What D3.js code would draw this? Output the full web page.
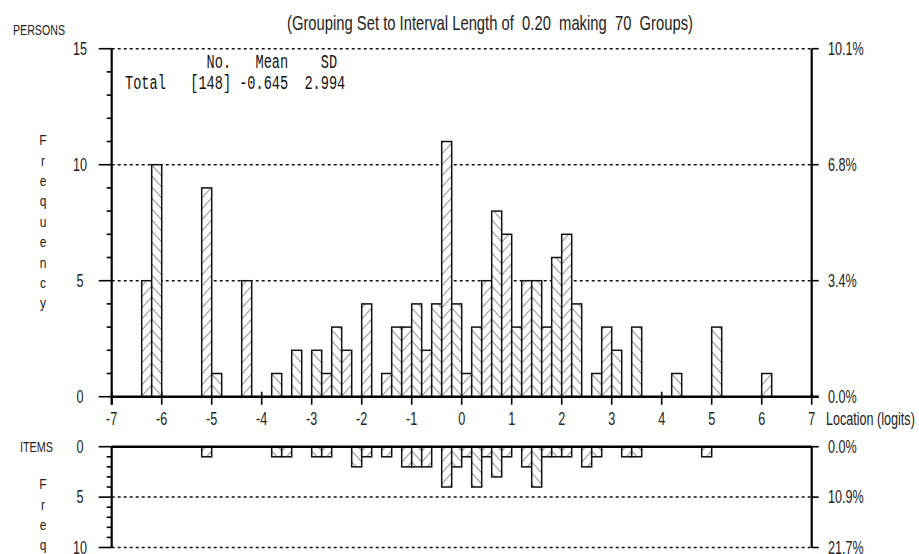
<!DOCTYPE html>
<html>
<head>
<meta charset="utf-8">
<script src="https://cdnjs.cloudflare.com/ajax/libs/d3/7.8.5/d3.min.js"></script>
<style>
  body { margin: 0; background: #fff; }
  svg text { font-family: "Liberation Sans", Arial, sans-serif; fill: #222; white-space: pre; }
  svg text.mono { font-family: "Liberation Mono", "DejaVu Sans Mono", monospace; fill: #111; }
</style>
</head>
<body>
<div id="chart"></div>
<script>
// Data ----------------------------------------------------------------------->

// Person histogram: lower edge of each 0.20-logit group and its count
const personBins = [-6.4, -6.2, -5.2, -5.0, -4.4, -3.8, -3.4, -3.0, -2.8, -2.6,
                    -2.4, -2.0, -1.6, -1.4, -1.2, -1.0, -0.8, -0.6, -0.4, -0.2,
                     0.0,  0.2,  0.4,  0.6,  0.8,  1.0,  1.2,  1.4,  1.6,  1.8,
                     2.0,  2.2,  2.6,  2.8,  3.0,  3.4,  4.2,  5.0,  6.0];
const personCounts = [5, 10, 9, 1, 5, 1, 2, 2, 1, 3,
                      2, 4, 1, 3, 3, 4, 2, 4, 11, 4,
                      1, 3, 5, 8, 7, 3, 5, 5, 3, 6,
                      7, 4, 1, 3, 2, 3, 1, 3, 1];

// Item histogram (drawn hanging below the axis)
const itemBins = [-5.2, -3.8, -3.6, -3.0, -2.8, -2.2, -2.0, -1.6, -1.2, -1.0,
                  -0.8, -0.4, -0.2,  0.0,  0.2,  0.4,  0.6,  0.8,  1.2,  1.4,
                   1.6,  1.8,  2.0,  2.4,  2.6,  3.2,  3.4,  4.8];
const itemCounts = [1, 1, 1, 1, 1, 2, 1, 1, 2, 2,
                    2, 4, 2, 1, 4, 1, 3, 1, 2, 4,
                    1, 1, 1, 2, 1, 1, 1, 1];

const xTicks = [-7, -6, -5, -4, -3, -2, -1, 0, 1, 2, 3, 4, 5, 6, 7];
const personTicks = [0, 5, 10, 15];
const personPct = ['0.0%', '3.4%', '6.8%', '10.1%'];
const itemTicks = [0, 5, 10];
const itemPct = ['0.0%', '10.9%', '21.7%'];
const binWidth = 0.2;

const titleText = '(Grouping Set to Interval Length of  0.20  making  70  Groups)';
const statsHead = '          No.   Mean    SD';
const statsRow = 'Total   [148] -0.645  2.994';

// Setup ---------------------------------------------------------------------->

const width = 919, height = 554;
const svg = d3.select('#chart')
  .append('svg')
    .attr('width', width)
    .attr('height', height);

const x = d3.scaleLinear().domain([-7, 7]).range([111.7, 811.7]);
const yP = d3.scaleLinear().domain([0, 15]).range([396.7, 48.7]);
const yI = d3.scaleLinear().domain([0, 10]).range([446.7, 547.5]);

// The source image uses tall, condensed lettering: squeeze text horizontally
const sq = (px, py, s) => `translate(${px},${py}) scale(${s},1)`;
const labelScale = 0.7;

// Hatch patterns: odd groups lean "/", even groups lean "\"
const defs = svg.append('defs');
function add_hatch(id, forward){
  const p = defs.append('pattern')
    .attr('id', id)
    .attr('patternUnits', 'userSpaceOnUse')
    .attr('x', x(-7))
    .attr('y', 0)
    .attr('width', 10)
    .attr('height', 11);
  p.append('rect').attr('width', 10).attr('height', 11).attr('fill', '#fff');
  const g = p.append('g')
    .attr('stroke', '#555')
    .attr('stroke-width', 0.9);
  [-10, 0, 10].forEach(dx => {
    if (forward) {
      g.append('line').attr('x1', dx).attr('y1', 11).attr('x2', dx + 10).attr('y2', 0);
    } else {
      g.append('line').attr('x1', dx).attr('y1', 0).attr('x2', dx + 10).attr('y2', 11);
    }
  });
}
add_hatch('hatch-f', true);
add_hatch('hatch-b', false);
const hatch_of = lo => (Math.round((lo + 7) / binWidth) % 2 === 1) ? 'url(#hatch-f)' : 'url(#hatch-b)';

const dotted = '3,3';

// Persons panel -------------------------------------------------------------->

// dotted gridlines
svg.append('g')
    .attr('stroke', '#111')
    .attr('stroke-width', 1.5)
    .attr('stroke-dasharray', dotted)
  .selectAll('line')
  .data(personTicks.slice(1))
  .join('line')
    .attr('x1', x(-7)).attr('x2', x(7))
    .attr('y1', d => yP(d)).attr('y2', d => yP(d));

// x ticks (crossing the axis, partly hidden behind bars)
svg.append('g')
    .attr('stroke', '#000')
    .attr('stroke-width', 1.6)
  .selectAll('line')
  .data(xTicks)
  .join('line')
    .attr('x1', d => x(d)).attr('x2', d => x(d))
    .attr('y1', yP(0) - 5).attr('y2', yP(0) + 8);

// bars
svg.append('g')
  .selectAll('rect')
  .data(personBins.map((lo, i) => ({lo: lo, n: personCounts[i]})))
  .join('rect')
    .attr('x', d => x(d.lo))
    .attr('width', d => x(d.lo + binWidth) - x(d.lo))
    .attr('y', d => yP(d.n))
    .attr('height', d => yP(0) - yP(d.n))
    .attr('fill', d => hatch_of(d.lo))
    .attr('stroke', '#111')
    .attr('stroke-width', 1.5);

// left axis with minor ticks
const leftP = svg.append('g').attr('stroke', '#000');
leftP.append('line')
  .attr('x1', x(-7)).attr('x2', x(-7))
  .attr('y1', yP(15)).attr('y2', yP(0) + 8)
  .attr('stroke-width', 2.2);
leftP.selectAll('line.tick')
  .data(d3.range(0, 16))
  .join('line')
    .attr('class', 'tick')
    .attr('x1', d => (d % 5 === 0) ? x(-7) - 13 : x(-7) - 5)
    .attr('x2', x(-7))
    .attr('y1', d => yP(d)).attr('y2', d => yP(d))
    .attr('stroke-width', 1.6);

// right axis
const rightP = svg.append('g').attr('stroke', '#000');
rightP.append('line')
  .attr('x1', x(7)).attr('x2', x(7))
  .attr('y1', yP(15)).attr('y2', yP(0))
  .attr('stroke-width', 2.2);
rightP.selectAll('line.tick')
  .data(personTicks)
  .join('line')
    .attr('class', 'tick')
    .attr('x1', x(7)).attr('x2', x(7) + 7)
    .attr('y1', d => yP(d)).attr('y2', d => yP(d))
    .attr('stroke-width', 1.6);

// x axis line
svg.append('line')
  .attr('x1', x(-7)).attr('x2', x(7) + 7)
  .attr('y1', yP(0)).attr('y2', yP(0))
  .attr('stroke', '#000')
  .attr('stroke-width', 2.6);

// tick labels
svg.append('g')
  .selectAll('text')
  .data(personTicks)
  .join('text')
    .attr('transform', d => sq(80, yP(d), labelScale))
    .attr('dy', '0.35em')
    .attr('text-anchor', 'middle')
    .style('font-size', '18px')
    .text(d => d);
svg.append('g')
  .selectAll('text')
  .data(personTicks)
  .join('text')
    .attr('transform', d => sq(828, yP(d), labelScale))
    .attr('dy', '0.35em')
    .style('font-size', '18px')
    .text((d, i) => personPct[i]);
svg.append('g')
  .selectAll('text')
  .data(xTicks)
  .join('text')
    .attr('transform', d => sq(x(d), 425, labelScale))
    .attr('text-anchor', 'middle')
    .style('font-size', '18px')
    .text(d => d);
svg.append('text')
  .attr('transform', sq(826, 425, labelScale))
  .style('font-size', '18px')
  .text('Location (logits)');

// titles and side labels
svg.append('text')
  .attr('transform', sq(490, 30, 0.74))
  .attr('text-anchor', 'middle')
  .style('font-size', '20px')
  .text(titleText);
svg.append('text')
  .attr('transform', sq(13, 35, 0.76))
  .style('font-size', '14px')
  .text('PERSONS');
svg.append('g')
  .selectAll('text')
  .data('Frequency'.split(''))
  .join('text')
    .attr('transform', (d, i) => sq(43, 140 + i * 20.4, 0.8))
    .attr('dy', '0.35em')
    .attr('text-anchor', 'middle')
    .style('font-size', '15px')
    .text(d => d);

// summary statistics
svg.append('text')
  .attr('class', 'mono')
  .attr('transform', sq(125, 68, 0.68))
  .style('font-size', '20px')
  .text(statsHead);
svg.append('text')
  .attr('class', 'mono')
  .attr('transform', sq(125, 89, 0.68))
  .style('font-size', '20px')
  .text(statsRow);

// Items panel ---------------------------------------------------------------->

svg.append('g')
    .attr('stroke', '#111')
    .attr('stroke-width', 1.5)
    .attr('stroke-dasharray', dotted)
  .selectAll('line')
  .data(itemTicks.slice(1))
  .join('line')
    .attr('x1', x(-7)).attr('x2', x(7))
    .attr('y1', d => yI(d)).attr('y2', d => yI(d));

svg.append('g')
  .selectAll('rect')
  .data(itemBins.map((lo, i) => ({lo: lo, n: itemCounts[i]})))
  .join('rect')
    .attr('x', d => x(d.lo))
    .attr('width', d => x(d.lo + binWidth) - x(d.lo))
    .attr('y', yI(0))
    .attr('height', d => yI(d.n) - yI(0))
    .attr('fill', d => hatch_of(d.lo))
    .attr('stroke', '#111')
    .attr('stroke-width', 1.5);

const leftI = svg.append('g').attr('stroke', '#000');
leftI.append('line')
  .attr('x1', x(-7)).attr('x2', x(-7))
  .attr('y1', yI(0)).attr('y2', yI(10))
  .attr('stroke-width', 2.2);
leftI.selectAll('line.tick')
  .data(d3.range(0, 11))
  .join('line')
    .attr('class', 'tick')
    .attr('x1', d => (d % 5 === 0) ? x(-7) - 13 : x(-7) - 5)
    .attr('x2', x(-7))
    .attr('y1', d => yI(d)).attr('y2', d => yI(d))
    .attr('stroke-width', 1.6);

const rightI = svg.append('g').attr('stroke', '#000');
rightI.append('line')
  .attr('x1', x(7)).attr('x2', x(7))
  .attr('y1', yI(0)).attr('y2', yI(10))
  .attr('stroke-width', 2.2);
rightI.selectAll('line.tick')
  .data(itemTicks)
  .join('line')
    .attr('class', 'tick')
    .attr('x1', x(7)).attr('x2', x(7) + 7)
    .attr('y1', d => yI(d)).attr('y2', d => yI(d))
    .attr('stroke-width', 1.6);

svg.append('line')
  .attr('x1', x(-7)).attr('x2', x(7))
  .attr('y1', yI(0)).attr('y2', yI(0))
  .attr('stroke', '#000')
  .attr('stroke-width', 2.6);

svg.append('g')
  .selectAll('text')
  .data(itemTicks)
  .join('text')
    .attr('transform', d => sq(80, yI(d), labelScale))
    .attr('dy', '0.35em')
    .attr('text-anchor', 'middle')
    .style('font-size', '18px')
    .text(d => d);
svg.append('g')
  .selectAll('text')
  .data(itemTicks)
  .join('text')
    .attr('transform', d => sq(828, yI(d), labelScale))
    .attr('dy', '0.35em')
    .style('font-size', '18px')
    .text((d, i) => itemPct[i]);
svg.append('text')
  .attr('transform', sq(20, yI(0), 0.72))
  .attr('dy', '0.35em')
  .style('font-size', '15px')
  .text('ITEMS');
svg.append('g')
  .selectAll('text')
  .data('Freq'.split(''))
  .join('text')
    .attr('transform', (d, i) => sq(43, 484 + i * 20.4, 0.8))
    .attr('dy', '0.35em')
    .attr('text-anchor', 'middle')
    .style('font-size', '15px')
    .text(d => d);
</script>
</body>
</html>
